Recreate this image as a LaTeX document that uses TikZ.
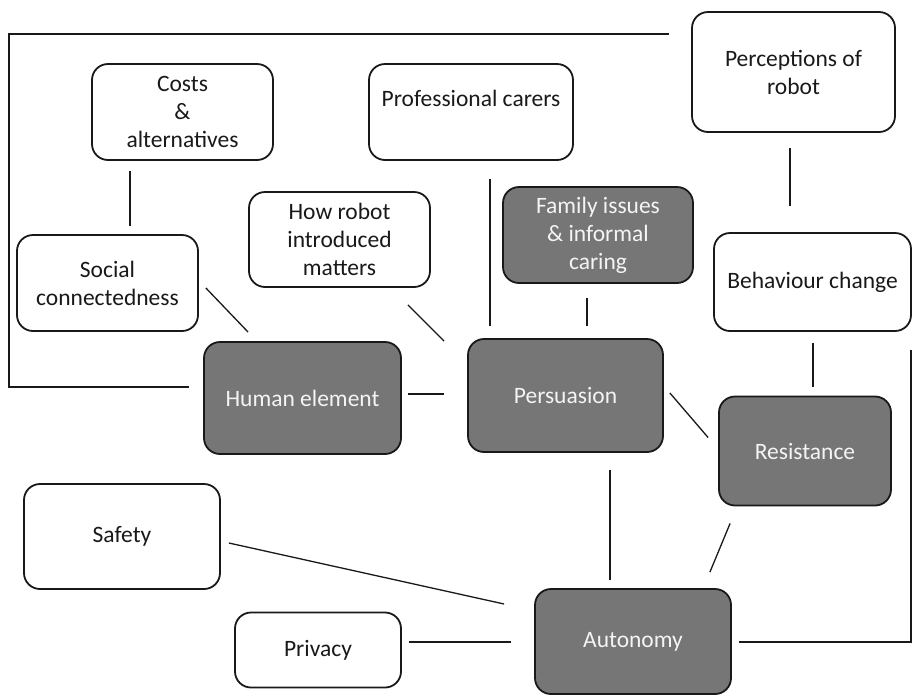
\documentclass[tikz,border=0pt]{standalone}
\usepackage{fontspec}
\setmainfont{Carlito}
\usepackage{tikz}
\usetikzlibrary{calc}
\definecolor{themegrey}{RGB}{118,118,118}
\definecolor{themetext}{RGB}{244,244,244}

\begin{document}
\begin{tikzpicture}[x=1pt,y=1pt,yscale=-1,xscale=1,
  box/.style={draw=black!90,line width=1.8pt,rounded corners=16pt,align=center,inner sep=0pt,
    font=\fontsize{23.5}{28}\selectfont,text=black!90},
  themebox/.style={box,fill=themegrey,text=themetext},
  link/.style={draw=black!90,line width=1.3pt}]
\path[use as bounding box] (0,0) rectangle (912,697);

% Text Node
\node [box,minimum width=181,minimum height=96] (costs) at (182.5,112) {Costs\\\&\\alternatives};
% Text Node
\node [box,minimum width=204,minimum height=96] (carers) at (471,112) {Professional carers\\\mbox{}};
% Text Node
\node [box,minimum width=203,minimum height=120] (percep) at (793.5,72) {Perceptions of\\robot};
% Text Node
\node [box,minimum width=181,minimum height=96] (social) at (107.5,283) {Social\\connectedness};
% Text Node
\node [box,minimum width=181,minimum height=95] (howrobot) at (339.5,239.5) {How robot\\introduced\\matters};
% Text Node
\node [themebox,minimum width=190,minimum height=96] (family) at (598,235) {Family issues\\\& informal\\caring};
% Text Node
\node [box,minimum width=197,minimum height=98] (behav) at (812.5,282) {Behaviour change};
% Text Node
\node [themebox,minimum width=197,minimum height=112] (human) at (302.5,398) {Human element};
% Text Node
\node [themebox,minimum width=195,minimum height=113] (persua) at (565.5,395.5) {Persuasion};
% Text Node
\node [themebox,minimum width=172,minimum height=109] (resist) at (805,451) {Resistance};
% Text Node
\node [box,minimum width=196,minimum height=105] (safety) at (122,536.5) {Safety};
% Text Node
\node [box,minimum width=166,minimum height=75] (privacy) at (318,650) {Privacy};
% Text Node
\node [themebox,minimum width=196,minimum height=105] (autonomy) at (633,641.5) {Autonomy};

\coordinate (framecorner) at (9,34);

%Straight Lines
\draw [link] ($(costs.south)+(-52.5,10)$) -- ($(social.north)+(22.5,-8)$);
\draw [link] ($(social.east)+(7,5)$) -- ($(human.north west)+(45,-9)$);
\draw [link] ($(human.east)+(6,-4)$) -- ($(persua.west)+(-23,-1.5)$);
\draw [link] ($(howrobot.south east)+(-23,17)$) -- ($(persua.north west)+(-23,3)$);
\draw [link] ($(carers.south)+(19,18)$) -- ($(persua.north)+(-75.5,-12)$);
\draw [link] ($(family.south)+(-11,14)$) -- ($(persua.north)+(21.5,-12)$);
\draw [link] ($(percep.south)+(-3.5,15)$) -- ($(behav.north)+(-22.5,-26)$);
\draw [link] ($(behav.south)+(0.5,11)$) -- ($(resist.north)+(8,-9)$);
\draw [link] ($(persua.east)+(6,-2.5)$) -- ($(resist.west)+(-10,-13.5)$);
\draw [link] ($(persua.south)+(44.5,17)$) -- ($(autonomy.north)+(-23,-8)$);
\draw [link] ($(resist.south west)+(12,17)$) -- ($(autonomy.north east)+(-22,-16)$);
\draw [link] ($(safety.east)+(8,6.5)$) -- ($(autonomy.west)+(-30,-37.5)$);
\draw [link] ($(privacy.east)+(7,-8)$) -- ($(autonomy.west)+(-23,0.5)$);
\draw [link] ($(autonomy.east)+(7,0.5)$) -| ($(behav.south east)+(-1,18)$);
\draw [link] ($(human.west)+(-14,-11)$) -| (framecorner) -- ($(percep.west)+(-22,-38)$);

\end{tikzpicture}
\end{document}
